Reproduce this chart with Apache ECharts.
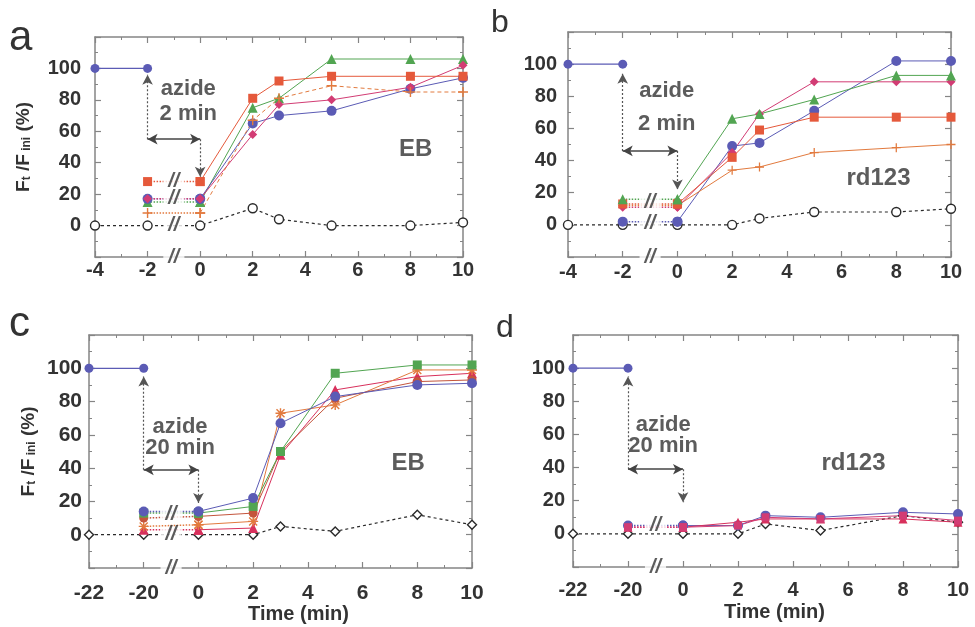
<!DOCTYPE html>
<html><head><meta charset="utf-8">
<script src="https://cdn.jsdelivr.net/npm/echarts@6/dist/echarts.min.js"></script>
<style>html,body{margin:0;padding:0;background:#fff}#c{width:975px;height:627px}</style>
</head><body><div id="c"></div>
<script>
// ---------- data ----------
const timeAB = [-2, 0, 2, 3, 5, 8, 10];
const timeCD = [-20, 0, 2, 3, 5, 8, 10];
const baseTimeAB = [-4, -2];
const baseTimeCD = [-22, -20];
const baseValues = [100, 100];
const ctrlTimeAB = [-4, -2, 0, 2, 3, 5, 8, 10];
const ctrlTimeCD = [-22, -20, 0, 2, 3, 5, 8, 10];
const xTicksAB = [-4, -2, 0, 2, 4, 6, 8, 10];
const xTicksCD = [-22, -20, 0, 2, 4, 6, 8, 10];
const yTicks = [0, 20, 40, 60, 80, 100];

// panel a : EB, azide 2 min
const aGreen = [15, 15, 75, 81, 106, 106, 106];
const aBlue = [17, 17, 65, 70, 73, 87, 94];
const aMagenta = [17, 17, 58, 77, 80, 88, 102];
const aPlus = [8, 8, 67, 81, 89, 85, 85];
const aRed = [28, 28, 81, 92, 95, 95, 95];
const aCtrl = [0, 0, 0, 11, 4, 0, 0, 2];
const aBreaks = [28, 17, 0, -20];
const aArrow = [55, 96, 31];

// panel b : rd123, azide 2 min
const bBlue = [2, 2, 49, 51, 71, 102, 102];
const bPlus = [12, 12, 34, 36, 45, 48, 50];
const bMagenta = [11, 11, 45, 69, 89, 89, 89];
const bRed = [13, 13, 42, 59, 67, 67, 67];
const bGreen = [16, 16, 66, 69, 78, 93, 93];
const bCtrl = [0, 0, 0, 0, 4, 8, 8, 10];
const bBreaks = [14, 1, -20];
const bArrow = [46, 94, 22];

// panel c : EB, azide 20 min
const cTri = [3, 3, 4, 48, 87, 95, 97];
const cStar = [5, 6, 8, 73, 78, 99, 99];
const cBrown = [10, 11, 13, 50, 82, 92, 93];
const cGreen = [13, 13, 17, 50, 97, 102, 102];
const cBlue = [14, 14, 22, 67, 83, 90, 91];
const cCtrl = [0, 0, 0, 0, 5, 2, 12, 6];
const cBreaks = [12, 0, -20];
const cArrow = [39, 95, 19];

// panel d : rd123, azide 20 min
const dBlue = [5, 5, 5, 11, 10, 13, 12];
const dTri = [4, 4, 7, 9, 9, 9, 7];
const dSquare = [4, 4, 5, 10, 9, 11, 8];
const dCtrl = [0, 0, 0, 0, 6, 2, 11, 7];
const dBreaks = [5, -20];
const dArrow = [39, 95, 19];

const panelLetters = ['a', 'b', 'c', 'd'];
const notesA = ['azide', '2 min', 'EB'];
const notesB = ['azide', '2 min', 'rd123'];
const notesC = ['azide', '20 min', 'EB'];
const notesD = ['azide', '20 min', 'rd123'];

// ---------- styling / layout ----------
const FONT = '"Liberation Sans", Arial, Helvetica, sans-serif';
const TXT = '#333';
const AX = '#858585';
const C_BLUE = '#5b5bb5', C_RED = '#e5593b', C_GREEN = '#52a552', C_MAG = '#d23c74',
      C_ORANGE = '#e27a3e', C_BROWN = '#c4553c', C_CRIM = '#d8305c', C_CTRL = '#2a2a2a';
const PLUS = 'path://M4.3,0h1.4v4.3h4.3v1.4h-4.3v4.3h-1.4v-4.3h-4.3v-1.4h4.3z';
const STAR = 'path://M4.3,0h1.4v10h-1.4z M0,4.3h10v1.4h-10z M1.5,0.5L9.5,8.5L8.5,9.5L0.5,1.5z M8.5,0.5L9.5,1.5L1.5,9.5L0.5,8.5z';

const posAB = t => t;
const posCD = t => (t <= -20 ? t + 18 : t);

const grids = [
  {left: 95, top: 37, width: 368, height: 220},
  {left: 568, top: 32, width: 383, height: 225},
  {left: 89, top: 335, width: 383, height: 233},
  {left: 573, top: 335, width: 385, height: 232}
];

const xAxes = [], yAxes = [], series = [];

function addAxes(gi, ticks, pos, xMargin, yMargin, fs, timeName, namePad) {
  const lbl = {};
  ticks.forEach(t => { lbl[pos(t)] = String(t); });
  const line = {onZero: false, lineStyle: {color: AX, width: 1.5}};
  const tick = {inside: true, length: 6, lineStyle: {color: AX, width: 1.2}};
  const minor = {show: true, splitNumber: 2, length: 3, lineStyle: {color: AX, width: 1}};
  xAxes.push({
    gridIndex: gi, type: 'value', position: 'bottom', min: pos(ticks[0]), max: pos(ticks[ticks.length - 1]), interval: 2,
    axisLine: line, axisTick: tick, minorTick: minor, splitLine: {show: false}, minorSplitLine: {show: false},
    axisLabel: {formatter: v => (lbl[v] !== undefined ? lbl[v] : ''), margin: xMargin, fontSize: fs, fontWeight: 'bold', color: TXT, fontFamily: FONT},
    name: timeName || '', nameLocation: 'middle', nameGap: 35,
    nameTextStyle: {fontSize: 20, fontWeight: 'bold', color: TXT, fontFamily: FONT, padding: [0, 0, 0, namePad || 0]}
  });
  xAxes.push({
    gridIndex: gi, type: 'value', position: 'top', min: pos(ticks[0]), max: pos(ticks[ticks.length - 1]), interval: 2,
    axisLine: line, axisTick: tick, minorTick: minor, splitLine: {show: false}, axisLabel: {show: false}
  });
  yAxes.push({
    gridIndex: gi, type: 'value', position: 'left', min: -20, max: 120, interval: 20,
    axisLine: line, axisTick: tick, minorTick: minor, splitLine: {show: false},
    axisLabel: {formatter: v => (yTicks.indexOf(v) >= 0 ? String(v) : ''), margin: yMargin, fontSize: fs, fontWeight: 'bold', color: TXT, fontFamily: FONT}
  });
  yAxes.push({
    gridIndex: gi, type: 'value', position: 'right', min: -20, max: 120, interval: 20,
    axisLine: line, axisTick: tick, minorTick: minor, splitLine: {show: false}, axisLabel: {show: false}
  });
}

function base(gi, symbol, size, color, open) {
  return {
    type: 'line', xAxisIndex: gi * 2, yAxisIndex: gi * 2, symbol, symbolSize: size, showSymbol: true,
    animation: false, silent: true, emphasis: {disabled: true},
    itemStyle: open ? {color: '#fff', borderColor: color, borderWidth: 1.4} : {color, borderWidth: 0}
  };
}

function addGroup(gi, times, pos, vals, color, symbol, size, lineType, width) {
  const pts = times.map((t, i) => [pos(t), vals[i]]);
  series.push(Object.assign(base(gi, symbol, size, color), {data: pts.slice(0, 2), lineStyle: {color, width: 1.5, type: 'dotted'}}));
  series.push(Object.assign(base(gi, symbol, size, color), {data: pts.slice(1), lineStyle: {color, width: width || 1, type: lineType || 'solid'}}));
}

function addBaseline(gi, times, pos) {
  series.push(Object.assign(base(gi, 'circle', 9, C_BLUE), {data: times.map((t, i) => [pos(t), baseValues[i]]), lineStyle: {color: C_BLUE, width: 1.2}}));
}

function addCtrl(gi, times, pos, vals, symbol) {
  series.push(Object.assign(base(gi, symbol, 9, C_CTRL, true),
    {data: times.map((t, i) => [pos(t), vals[i]]), lineStyle: {color: C_CTRL, width: 1.2, type: [3, 3]}}));
}

function addDecor(gi, times, pos, breaks, arrow, notes, notePos) {
  const L = pos(times[0]), R = pos(times[1]), M = (L + R) / 2;
  const [lvl, up, dn] = arrow;
  const dotted = {color: '#555', width: 1.2, type: [2, 2]};
  const solid = {color: '#444', width: 1.6, type: 'solid'};
  series.push({
    type: 'scatter', xAxisIndex: gi * 2, yAxisIndex: gi * 2, symbolSize: 1, clip: false, silent: true, animation: false, z: 10,
    itemStyle: {color: 'rgba(0,0,0,0)'},
    data: breaks.map(b => [M, b]),
    label: {show: true, position: 'inside', formatter: '//', fontSize: 20, fontWeight: 'bold', fontStyle: 'italic',
      color: TXT, fontFamily: FONT, backgroundColor: '#fff', padding: [0, 5], lineHeight: 15},
    markLine: {
      silent: true, animation: false, label: {show: false}, symbolSize: [8, 10],
      data: [
        [{coord: [L, lvl], symbol: 'none', lineStyle: dotted}, {coord: [L, up], symbol: 'arrow'}],
        [{coord: [L, lvl], symbol: 'arrow', lineStyle: solid}, {coord: [R, lvl], symbol: 'arrow'}],
        [{coord: [R, lvl], symbol: 'none', lineStyle: dotted}, {coord: [R, dn], symbol: 'arrow'}]
      ]
    }
  });
  series.push({
    type: 'scatter', xAxisIndex: gi * 2, yAxisIndex: gi * 2, symbolSize: 1, clip: false, silent: true, animation: false, z: 11,
    itemStyle: {color: 'rgba(0,0,0,0)'},
    data: notes.map((n, i) => ({name: n, value: notePos[i].slice(0, 2), label: {fontSize: notePos[i][2]}})),
    label: {show: true, position: 'inside', formatter: '{b}', fontWeight: 'bold', color: TXT, fontFamily: FONT}
  });
}

// panel a
addAxes(0, xTicksAB, posAB, 3, 14, 20);
addCtrl(0, ctrlTimeAB, posAB, aCtrl, 'circle');
addBaseline(0, baseTimeAB, posAB);
addGroup(0, timeAB, posAB, aGreen, C_GREEN, 'triangle', 10);
addGroup(0, timeAB, posAB, aBlue, C_BLUE, 'circle', 10);
addGroup(0, timeAB, posAB, aMagenta, C_MAG, 'diamond', 9);
addGroup(0, timeAB, posAB, aPlus, C_ORANGE, PLUS, 10, [4, 3]);
addGroup(0, timeAB, posAB, aRed, C_RED, 'rect', 9);
addDecor(0, timeAB, posAB, aBreaks, aArrow, notesA, [[-0.45, 87, 22], [-0.45, 71, 22], [8.2, 48.5, 24]]);

// panel b
addAxes(1, xTicksAB, posAB, 5, 11, 20);
addCtrl(1, ctrlTimeAB, posAB, bCtrl, 'circle');
addBaseline(1, baseTimeAB, posAB);
addGroup(1, timeAB, posAB, bBlue, C_BLUE, 'circle', 10);
addGroup(1, timeAB, posAB, bPlus, C_ORANGE, PLUS, 9);
addGroup(1, timeAB, posAB, bMagenta, C_MAG, 'diamond', 9);
addGroup(1, timeAB, posAB, bRed, C_RED, 'rect', 9);
addGroup(1, timeAB, posAB, bGreen, C_GREEN, 'triangle', 10);
addDecor(1, timeAB, posAB, bBreaks, bArrow, notesB, [[-0.39, 83.5, 22], [-0.39, 63, 22], [7.35, 29, 24]]);

// panel c
addAxes(2, xTicksCD, posCD, 15, 7, 21, 'Time (min)', 36);
addCtrl(2, ctrlTimeCD, posCD, cCtrl, 'diamond');
addBaseline(2, baseTimeCD, posCD);
addGroup(2, timeCD, posCD, cTri, C_CRIM, 'triangle', 10);
addGroup(2, timeCD, posCD, cStar, C_ORANGE, STAR, 10);
addGroup(2, timeCD, posCD, cBrown, C_BROWN, 'circle', 9);
addGroup(2, timeCD, posCD, cGreen, C_GREEN, 'rect', 9);
addGroup(2, timeCD, posCD, cBlue, C_BLUE, 'circle', 10);
addDecor(2, timeCD, posCD, cBreaks, cArrow, notesC, [[-0.67, 65, 22], [-0.67, 52, 22], [7.67, 42.7, 24]]);

// panel d
addAxes(3, xTicksCD, posCD, 13, 8, 20, 'Time (min)', 18);
addCtrl(3, ctrlTimeCD, posCD, dCtrl, 'diamond');
addBaseline(3, baseTimeCD, posCD);
addGroup(3, timeCD, posCD, dBlue, C_BLUE, 'circle', 10);
addGroup(3, timeCD, posCD, dTri, C_CRIM, 'triangle', 9);
addGroup(3, timeCD, posCD, dSquare, C_MAG, 'rect', 8);
addDecor(3, timeCD, posCD, dBreaks, dArrow, notesD, [[-0.72, 66, 22], [-0.72, 53, 22], [6.2, 42.7, 24]]);

// y axis titles (a and c)
const yName = '{m|F}{s|t}{m| /F}{s| ini}{m| (%)}';
const yRich = {
  m: {fontSize: 19, fontWeight: 'bold', color: TXT, fontFamily: FONT, verticalAlign: 'bottom', lineHeight: 24},
  s: {fontSize: 12, fontWeight: 'bold', color: TXT, fontFamily: FONT, verticalAlign: 'bottom', lineHeight: 20}
};
[0, 4].forEach((idx, k) => {
  Object.assign(yAxes[idx], {name: yName, nameLocation: 'middle', nameGap: k === 0 ? 62 : 51, nameRotate: 90,
    nameTextStyle: {rich: yRich, padding: [0, 0, 0, 0]}});
});

const chart = echarts.init(document.getElementById('c'), null, {renderer: 'canvas'});
chart.setOption({
  backgroundColor: '#fff',
  animation: false,
  grid: grids.map(g => Object.assign({containLabel: false, outerBoundsMode: 'none'}, g)),
  xAxis: xAxes,
  yAxis: yAxes,
  series,
  graphic: [
    {type: 'text', left: 9, top: 17, style: {text: panelLetters[0], font: '42px ' + FONT, fill: TXT}},
    {type: 'text', left: 491, top: 7, style: {text: panelLetters[1], font: '32px ' + FONT, fill: TXT}},
    {type: 'text', left: 9, top: 303, style: {text: panelLetters[2], font: '42px ' + FONT, fill: TXT}},
    {type: 'text', left: 496, top: 312, style: {text: panelLetters[3], font: '32px ' + FONT, fill: TXT}}
  ]
});
</script></body></html>
